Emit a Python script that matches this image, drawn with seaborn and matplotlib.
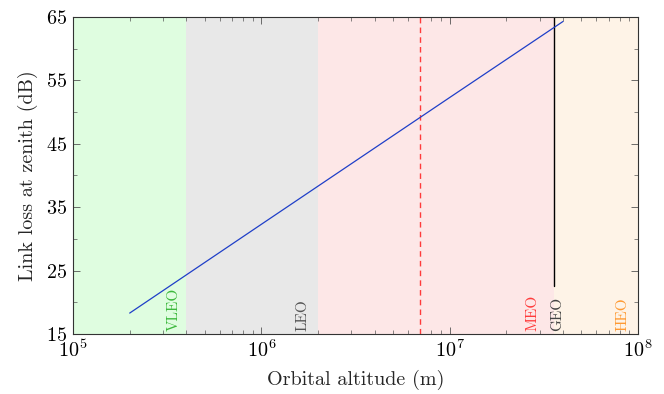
import matplotlib
matplotlib.use("Agg")
import matplotlib.pyplot as plt
import seaborn as sns
import pandas as pd
from matplotlib.ticker import LogLocator, MultipleLocator, NullFormatter

# ---- data ----
altitude_m = [2.0e5, 1.0e6, 1.0e7, 4.0e7]
link_loss_db = [18.3, 32.3, 52.3, 64.3]

region_names = ["VLEO", "LEO", "MEO", "HEO"]
region_edges = [1e5, 4e5, 2e6, 3.58e7, 1e8]
region_fill = ["#dffde0", "#e8e8e8", "#fde7e7", "#fef3e7"]
region_text = ["#3cb83c", "#555555", "#ff3b3b", "#ff9a33"]
label_x = [3.45e5, 1.66e6, 2.77e7, 8.3e7]

geo_altitude = 3.58e7
geo_label_x = 3.74e7
geo_line_bottom = 22.5
dashed_altitude = 7.0e6

sns.set_theme(style="ticks")
plt.rcParams["font.family"] = ["cmr10", "DejaVu Serif"]
plt.rcParams["mathtext.fontset"] = "cm"
plt.rcParams["axes.formatter.use_mathtext"] = True

fig = plt.figure(figsize=(6.64, 3.94), dpi=100)
ax = fig.add_axes([73/664, 1-334/394, (638-73)/664, (334-17)/394])

for i in range(len(region_names)):
    ax.axvspan(region_edges[i], region_edges[i+1], color=region_fill[i], lw=0, zorder=0)

df = pd.DataFrame({"alt": altitude_m, "loss": link_loss_db})
sns.lineplot(data=df, x="alt", y="loss", ax=ax, color="#1f3fc8", lw=0.9, zorder=3)

ax.axvline(dashed_altitude, color="#ff3b3b", ls=(0, (4, 3)), lw=1.0, zorder=2)
ax.plot([geo_altitude, geo_altitude], [geo_line_bottom, 65], color="black", lw=1.0, zorder=2)

for name, x, c in zip(region_names, label_x, region_text):
    ax.text(x, 15.4, name, rotation=90, color=c, fontsize=11, ha="center", va="bottom", zorder=4)
ax.text(geo_label_x, 15.4, "GEO", rotation=90, color="#444444", fontsize=11, ha="center", va="bottom", zorder=4)

ax.set_xscale("log")
ax.set_xlim(1e5, 1e8)
ax.set_ylim(15, 65)
ax.set_yticks([15, 25, 35, 45, 55, 65])
ax.yaxis.set_minor_locator(MultipleLocator(5))
ax.xaxis.set_major_locator(LogLocator(base=10, numticks=10))
ax.xaxis.set_minor_locator(LogLocator(base=10, subs=range(2, 10), numticks=20))
ax.xaxis.set_minor_formatter(NullFormatter())

ax.tick_params(which="both", direction="in", top=True, right=True, colors="#555555",
               labelcolor="black", labelsize=14.5)
ax.tick_params(which="major", length=5, width=0.6, pad=4)
ax.tick_params(which="minor", length=3, width=0.5)
for s in ax.spines.values():
    s.set_color("#333333")
    s.set_linewidth(0.8)

ax.set_xlabel("Orbital altitude (m)", fontsize=14.5, labelpad=6)
ax.set_ylabel("Link loss at zenith (dB)", fontsize=14.5, labelpad=6)

fig.savefig("out.png", dpi=100)
